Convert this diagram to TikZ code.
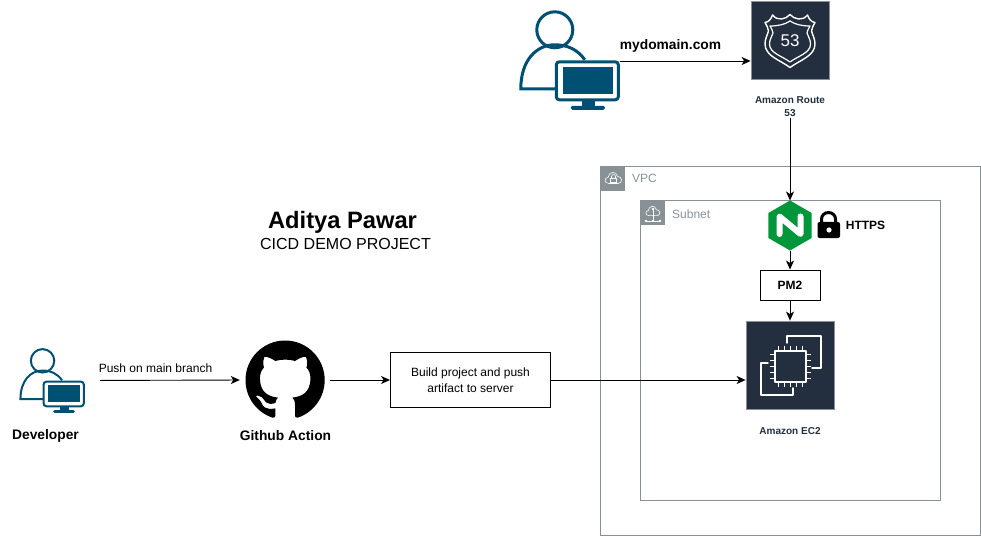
\documentclass[tikz,border=0pt]{standalone}
\usepackage{fontspec}
\setmainfont{Liberation Sans}
\usetikzlibrary{arrows.meta,shapes.geometric,svg.path}
\definecolor{awsdark}{HTML}{232F3E}
\definecolor{awsgray}{HTML}{879196}
\definecolor{userblue}{HTML}{005073}
\definecolor{nginxgreen}{HTML}{009639}
\tikzset{
	conn/.style={draw=black,line width=0.9pt,-{Stealth[length=9pt,width=8pt,inset=2.5pt]}},
	plainlabel/.style={inner sep=0pt,font=\fontsize{12}{14}\selectfont},
	boldlabel/.style={inner sep=0pt,font=\bfseries\fontsize{13.8}{16}\selectfont},
	awslabel/.style={inner sep=0pt,align=center,text=awsdark,font=\bfseries\fontsize{10}{12.5}\selectfont},
	graylabel/.style={inner sep=0pt,anchor=west,text=awsgray,font=\fontsize{12}{14}\selectfont},
	awsbox/.style={fill=awsdark,draw=awsgray,line width=0.8pt,minimum width=#1,minimum height=#1,inner sep=0pt},
	groupbox/.style={draw=awsgray,line width=0.9pt,inner sep=0pt},
	grouptag/.style={fill=awsgray,minimum size=25pt,inner sep=0pt,anchor=north west},
	whitebox/.style={draw=black,line width=0.9pt,fill=white,align=center,inner sep=0pt},
	iconline/.style={draw=white,line width=1.4pt,line join=round,line cap=round},
	tagline/.style={draw=white,line width=0.6pt,line join=round},
	pics/usericon/.style={code={
		\draw[userblue,line width=#1] (35,20) circle (18);
		\draw[userblue,line width=#1] (36,79) -- (1,79) .. controls (1,50) and (17,35) .. (35,35) .. controls (48,35) and (58,40) .. (65,50);
		\draw[userblue,line width=#1,fill=white,rounded corners=3pt] (36.5,52) rectangle (98.5,90);
		\fill[userblue] (43,57) rectangle (93,84);
		\fill[userblue] (62,90) rectangle (75,96);
		\fill[userblue,rounded corners=1.5pt] (51,96) rectangle (85,100);
	}},
	pics/cloudicon/.style={code={
		\draw[tagline] (-4.5,5.5) .. controls (-9.5,5.5) and (-9.5,-0.5) .. (-5.5,-0.5) .. controls (-5,-6.5) and (3,-7.5) .. (4,-1.5) .. controls (9,-2) and (9.5,5.5) .. (4.5,5.5) -- cycle;
	}}
}
\begin{document}
\begin{tikzpicture}[x=1pt,y=-1pt]
	\useasboundingbox (0,0) rectangle (981,537);

	\node[groupbox,minimum width=380pt,minimum height=369pt] (vpc) at (790.5,350.5) {};
	\node[grouptag] (vpctag) at (vpc.north west) {};
	\node[graylabel] (vpclabel) at (632,178.5) {VPC};
	\pic at (613.5,178) {cloudicon};
	\draw[tagline] (610.5,178.5) rectangle (616.5,182.5);
	\draw[tagline] (611.5,178.5) -- (611.5,176.5) arc (180:360:2) -- (615.5,178.5);

	\node[groupbox,minimum width=300pt,minimum height=300pt] (subnet) at (790.5,350) {};
	\node[grouptag] (subnettag) at (subnet.north west) {};
	\node[graylabel] (subnetlabel) at (672,214) {Subnet};
	\pic[scale=.85] at (653,211) {cloudicon};
	\draw[tagline] (653,209) -- (653,221);
	\draw[tagline] (646.5,221) -- (659.5,221);
	\fill[white] (645,219.8) rectangle +(2.4,2.4);
	\fill[white] (651.8,219.8) rectangle +(2.4,2.4);
	\fill[white] (658.6,219.8) rectangle +(2.4,2.4);
	\fill[white] (653,209) circle (1.3);

	\node[minimum size=100pt,inner sep=0pt] (enduser) at (570,60) {};
	\pic at (enduser.north west) {usericon=3pt};
	\node[minimum size=65pt,inner sep=0pt] (developer) at (52.5,380.5) {};
	\pic[scale=.65] at (developer.north west) {usericon=2pt};
	\node[boldlabel] (developerlabel) at (45.5,436) {Developer};

	\node[awsbox=78pt] (route53) at (790,40) {};
	\draw[iconline] (765,22.5) .. controls (769,22) and (771,19) .. (772.5,15) .. controls (775,18) and (778,19.5) .. (781.5,19) .. controls (785,18.5) and (788,17) .. (790,14.5) .. controls (792,17) and (795,18.5) .. (798.5,19) .. controls (802,19.5) and (805,18) .. (807.5,15) .. controls (809,19) and (811,22) .. (815,22.5) .. controls (813,26) and (812,28) .. (811.5,31) .. controls (813,36) and (815,39) .. (815,44) .. controls (815,56) and (800,60) .. (790,67.5) .. controls (780,60) and (765,56) .. (765,44) .. controls (765,39) and (767,36) .. (768.5,31) .. controls (768,28) and (767,26) .. (765,22.5) -- cycle;
	\draw[iconline,line width=1.2pt] (770,26) .. controls (778,26) and (785,24.5) .. (790,21) .. controls (795,24.5) and (802,26) .. (810,26) .. controls (808.5,29) and (807,31) .. (807,33) .. controls (808.5,37) and (810.5,40) .. (810.5,44) .. controls (810.5,53) and (798,56) .. (790,62) .. controls (782,56) and (769.5,53) .. (769.5,44) .. controls (769.5,40) and (771.5,37) .. (773,33) .. controls (773,31) and (771.5,29) .. (770,26) -- cycle;
	\node[inner sep=0pt,text=white,font=\fontsize{17}{18}\selectfont] (route53num) at (790,41) {53};
	\node[awslabel] (route53label) at (790,106.5) {Amazon Route\\53};

	\node[boldlabel] (domainlabel) at (670.5,45.5) {mydomain.com};
	\draw[conn] (enduser.east) ++(0,1) -- (route53.west |- 0,61);
	\node[regular polygon,regular polygon sides=6,shape border rotate=30,fill=nginxgreen,minimum size=50pt,inner sep=0pt,outer sep=0pt] (nginx) at (790,225.5) {};
	\draw[draw=white,line width=6pt,line cap=round,line join=round] (779.5,234) -- (779.5,216.5) -- (800.5,234) -- (800.5,216.5);
	\draw[conn] (route53label.south) ++(0,2) -- (nginx.north);

	\node[minimum width=23pt,minimum height=25pt,inner sep=0pt] (lock) at (828.5,225) {};
	\draw[black,line width=3pt] (821.5,224) -- (821.5,219) arc (180:360:7 and 6.5) -- (835.5,224);
	\fill[black,rounded corners=2pt] (817.5,222) rectangle (840,238);
	\fill[white] (829,230) circle (2.6);
	\node[boldlabel,font=\bfseries\fontsize{12}{14}\selectfont] (httpslabel) at (865.5,225) {HTTPS};

	\node[whitebox,minimum width=60pt,minimum height=30pt,font=\bfseries\fontsize{12}{14}\selectfont] (pm2) at (790,285) {PM2};
	\draw[conn] (nginx.south) -- (pm2.north);

	\node[awsbox=88pt] (ec2) at (790,365) {};
	\draw[iconline] (787,343) -- (787,336) -- (821,336) -- (821,368) -- (812,368);
	\draw[iconline] (768,363) -- (761,363) -- (761,395) -- (793,395) -- (793,388);
	\draw[iconline,fill=awsdark] (775,351) rectangle (806,382);
	\foreach \k in {0,1,2,3,4} {
		\draw[iconline,line width=1pt,line cap=butt] (778.5+6*\k,346) -- (778.5+6*\k,351);
		\draw[iconline,line width=1pt,line cap=butt] (778.5+6*\k,382) -- (778.5+6*\k,387);
		\draw[iconline,line width=1pt,line cap=butt] (770,354.5+6*\k) -- (775,354.5+6*\k);
		\draw[iconline,line width=1pt,line cap=butt] (806,354.5+6*\k) -- (811,354.5+6*\k);
	}
	\node[awslabel] (ec2label) at (790,431.5) {Amazon EC2};
	\draw[conn] (pm2.south) -- (ec2.north);

	\node[inner sep=0pt,font=\bfseries\fontsize{23.7}{26}\selectfont] (titlelabel) at (342.5,222) {Aditya Pawar};
	\node[inner sep=0pt,font=\fontsize{16}{18}\selectfont] (subtitlelabel) at (345.5,243.5) {CICD DEMO PROJECT};

	\node[circle,minimum size=80pt,inner sep=0pt] (github) at (285,380) {};
	\begin{scope}[shift={(245.5,340.5)},xscale=4.95,yscale=-4.95]
		\fill[black] svg {M8 0 C3.58 0 0 3.58 0 8 c0 3.54 2.29 6.53 5.47 7.59 .4 .07 .55 -.17 .55 -.38 0 -.19 -.01 -.82 -.01 -1.49 -2.01 .37 -2.53 -.49 -2.69 -.94 -.09 -.23 -.48 -.94 -.82 -1.13 -.28 -.15 -.68 -.52 -.01 -.53 .63 -.01 1.08 .58 1.23 .82 .72 1.21 1.87 .87 2.33 .66 .07 -.52 .28 -.87 .51 -1.07 -1.78 -.2 -3.64 -.89 -3.64 -3.95 0 -.87 .31 -1.59 .82 -2.15 -.08 -.2 -.36 -1.02 .08 -2.12 0 0 .67 -.21 2.2 .82 .64 -.18 1.32 -.27 2 -.27 .68 0 1.36 .09 2 .27 1.53 -1.04 2.2 -.82 2.2 -.82 .44 1.1 .16 1.92 .08 2.12 .51 .56 .82 1.27 .82 2.15 0 3.07 -1.87 3.75 -3.65 3.95 .29 .25 .54 .73 .54 1.48 0 1.07 -.01 1.93 -.01 2.2 0 .21 .15 .46 .55 .38 A8.013 8.013 0 0 0 16 8 c0 -4.42 -3.58 -8 -8 -8 z};
	\end{scope}
	\node[boldlabel] (githublabel) at (285.5,435.5) {Github Action};

	\node[whitebox,minimum width=160pt,minimum height=55pt,font=\fontsize{12}{16}\selectfont] (build) at (470.5,380) {Build project and push\\artifact to server};

	\node[plainlabel] (pushlabel) at (155.5,368) {Push on main branch};
	\draw[conn,shorten <=15pt,shorten >=5pt] (developer.east) -- (github.west);
	\draw[conn,shorten <=5pt] (github.east) -- (build.west);
	\draw[conn] (build.east) -- (build.east -| ec2.west);
\end{tikzpicture}
\end{document}
